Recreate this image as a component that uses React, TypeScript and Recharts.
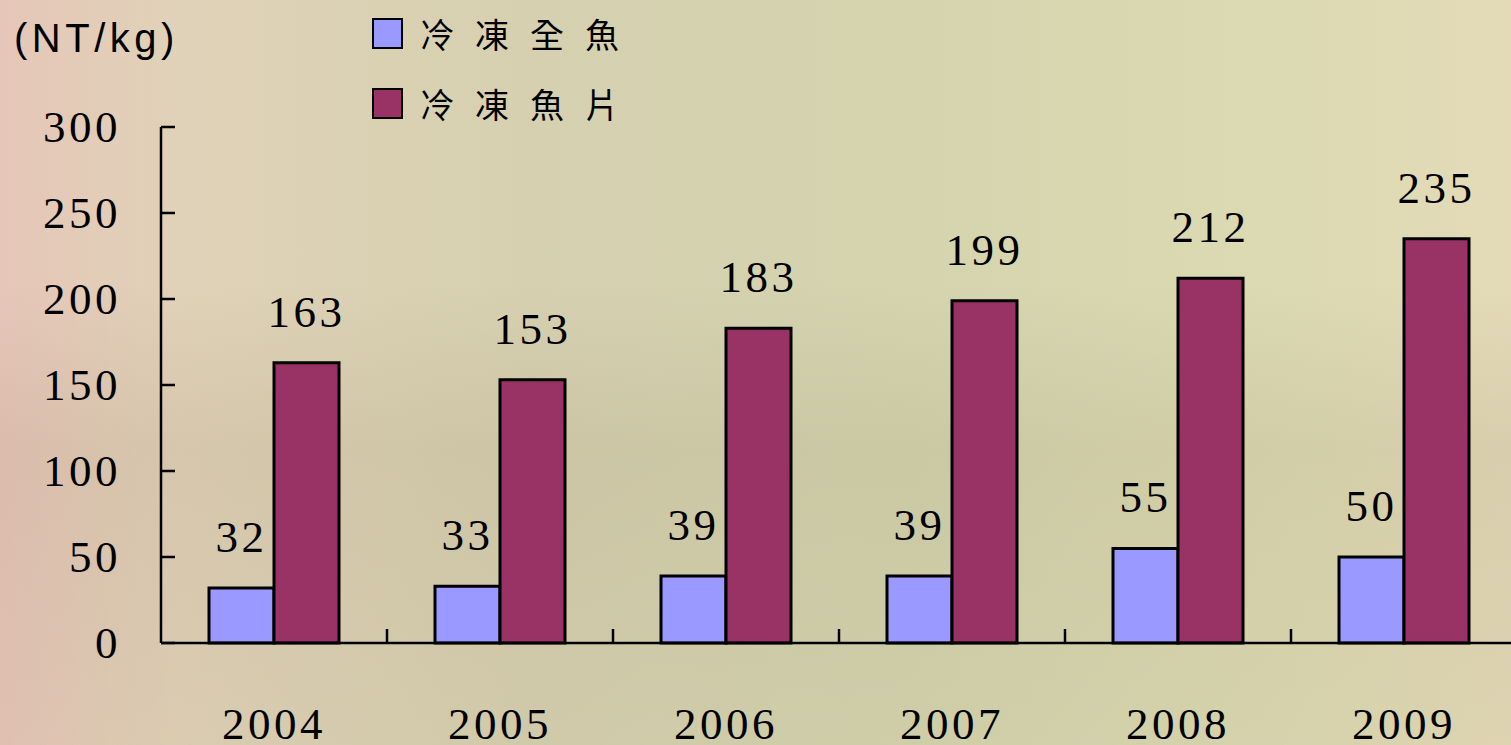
import { BarChart, Bar, XAxis, YAxis, LabelList } from 'recharts'

// 冷凍魚 price, NT/kg
const years = ['2004', '2005', '2006', '2007', '2008', '2009']
const wholeFish = [32, 33, 39, 39, 55, 50]
const fillets = [163, 153, 183, 199, 212, 235]
const yTicks = [0, 50, 100, 150, 200, 250, 300]

const data = years.map((year, i) => ({ year, whole: wholeFish[i], fillet: fillets[i] }))

const W = 1517
const H = 745
const LEFT = 161
const TOP = 127
const BOTTOM = 102
const AXIS_Y = H - BOTTOM
const BAND = (W - LEFT) / years.length

const serif = '"Liberation Serif", "Times New Roman", serif'
const numStyle = { fontFamily: serif, fontSize: 45, fill: '#000', letterSpacing: 3.5 }

function YearTick(props: any) {
  const { x, payload, index } = props
  return (
    <g>
      <text x={x} y={AXIS_Y + 96} textAnchor="middle" {...numStyle}>
        {payload.value}
      </text>
      {index < years.length - 1 && (
        <line x1={x + BAND / 2} x2={x + BAND / 2} y1={AXIS_Y} y2={AXIS_Y - 14} stroke="#000" strokeWidth={2.5} />
      )}
    </g>
  )
}

function ValueTick(props: any) {
  const { y, payload } = props
  return (
    <g>
      <line x1={LEFT} x2={LEFT + 14} y1={y} y2={y} stroke="#000" strokeWidth={2.5} />
      <text x={LEFT - 40} y={y + 15} textAnchor="end" {...numStyle}>
        {payload.value}
      </text>
    </g>
  )
}

const legendItems = [
  { name: '冷凍全魚', color: '#9999FF' },
  { name: '冷凍魚片', color: '#993366' },
]

export default function App() {
  return (
    <div
      style={{
        position: 'fixed',
        left: 0,
        top: 0,
        width: 1511,
        height: 745,
        overflow: 'hidden',
        background:
          'linear-gradient(180deg, rgba(255,255,230,0.0) 0%, rgba(120,100,70,0.0) 38%, rgba(120,100,70,0.10) 60%, rgba(120,100,70,0.06) 100%), linear-gradient(90deg, #e6c6b8 0%, #e0d2b8 12%, #d6d0b0 35%, #d4d4ae 60%, #dcdab2 85%, #e4dab8 100%)',
      }}
    >
      <div
        style={{
          position: 'absolute',
          left: 14,
          top: 14,
          fontFamily: '"Liberation Sans", Arial, sans-serif',
          fontSize: 40,
          letterSpacing: 4.5,
          color: '#000',
          lineHeight: '48px',
        }}
      >
        (NT/kg)
      </div>
      <div style={{ position: 'absolute', left: 372, top: 14 }}>
        {legendItems.map((it) => (
          <div key={it.name} style={{ display: 'flex', alignItems: 'center', height: 70 }}>
            <div
              style={{
                width: 27,
                height: 27,
                background: it.color,
                border: '2.5px solid #000',
                marginRight: 17,
                marginTop: -32,
              }}
            />
            <span
              style={{
                fontFamily: '"Noto Sans CJK TC", sans-serif',
                fontSize: 34,
                letterSpacing: 21,
                color: '#000',
                marginTop: -32,
              }}
            >
              {it.name}
            </span>
          </div>
        ))}
      </div>
      <div style={{ position: 'absolute', left: 0, top: 0 }}>
        <BarChart
          width={W}
          height={H}
          data={data}
          margin={{ top: TOP, right: 0, bottom: 0, left: 0 }}
          barCategoryGap={48}
          barGap={0}
        >
          <XAxis
            dataKey="year"
            axisLine={{ stroke: '#000', strokeWidth: 2.5 }}
            tickLine={false}
            tick={<YearTick />}
            interval={0}
            height={BOTTOM}
          />
          <YAxis
            domain={[0, 300]}
            ticks={yTicks}
            width={LEFT}
            axisLine={{ stroke: '#000', strokeWidth: 2.5 }}
            tickLine={false}
            tick={<ValueTick />}
            interval={0}
          />
          <Bar dataKey="whole" fill="#9999FF" stroke="#000" strokeWidth={3} isAnimationActive={false}>
            <LabelList dataKey="whole" position="top" offset={36} style={numStyle} />
          </Bar>
          <Bar dataKey="fillet" fill="#993366" stroke="#000" strokeWidth={3} isAnimationActive={false}>
            <LabelList dataKey="fillet" position="top" offset={36} style={numStyle} />
          </Bar>
        </BarChart>
      </div>
    </div>
  )
}
